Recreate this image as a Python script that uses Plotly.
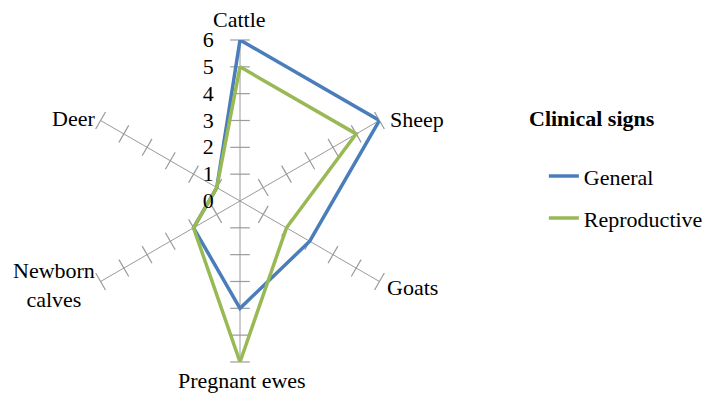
import plotly.graph_objects as go

# Radar chart of clinical signs by host group
categories = ["Cattle", "Sheep", "Goats", "Pregnant ewes", "Newborn calves", "Deer"]
category_labels = ["Cattle", "Sheep", "Goats", "Pregnant ewes", "Newborn<br>calves", "Deer"]
general = [6, 6, 3, 4, 2, 1]
reproductive = [5, 5, 2, 6, 2, 1]
radial_ticks = [0, 1, 2, 3, 4, 5, 6]

BLUE = "#4a7ebb"
GREEN = "#98b954"
GRID = "#9a9a9a"
FONT = "Liberation Serif, Times New Roman, Times, serif"
FS = 22

# Where each spoke's name sits in the paper (x, y, xanchor)
label_place = {
    "Cattle": (0.338, 0.950, "center"),
    "Sheep": (0.5465, 0.697, "left"),
    "Goats": (0.5423, 0.275, "left"),
    "Pregnant ewes": (0.3408, 0.038, "center"),
    "Newborn calves": (0.0761, 0.280, "center"),
    "Deer": (0.1366, 0.6995, "right"),
}

fig = go.Figure()

# Short tick marks across every spoke at each integer value
spoke_angles = [i * 360 / len(categories) for i in range(len(categories))]
tick_r, tick_t, tick_a = [], [], []
for cat, ang in zip(categories, spoke_angles):
    for v in radial_ticks[1:]:
        tick_r.append(v)
        tick_t.append(cat)
        tick_a.append(ang)
fig.add_trace(go.Scatterpolar(
    r=tick_r, theta=tick_t, mode="markers",
    marker=dict(symbol="line-ew", size=14, angle=tick_a,
                line=dict(color=GRID, width=1.2)),
    showlegend=False, hoverinfo="skip",
))

def closed(vals):
    return vals + vals[:1]

fig.add_trace(go.Scatterpolar(
    r=closed(general), theta=closed(categories), mode="lines",
    name="General", line=dict(color=BLUE, width=3.5), legend="legend",
))
fig.add_trace(go.Scatterpolar(
    r=closed(reproductive), theta=closed(categories), mode="lines",
    name="Reproductive", line=dict(color=GREEN, width=3.5), legend="legend2",
))

annotations = [dict(
    text="<b>Clinical signs</b>", x=0.742, y=0.702,
    xref="paper", yref="paper", xanchor="left", yanchor="middle",
    showarrow=False, font=dict(family=FONT, size=FS),
)]
for cat, lab in zip(categories, category_labels):
    x, y, xa = label_place[cat]
    annotations.append(dict(
        text=lab, x=x, y=y, xref="paper", yref="paper",
        xanchor=xa, yanchor="middle", align="center", showarrow=False,
        font=dict(family=FONT, size=FS),
    ))

fig.update_layout(
    width=710, height=396,
    margin=dict(l=0, r=0, t=0, b=0),
    paper_bgcolor="white",
    font=dict(family=FONT, size=FS, color="black"),
    polar=dict(
        domain=dict(x=[0.1113, 0.5648], y=[0.0859, 0.899]),
        bgcolor="white",
        angularaxis=dict(
            direction="clockwise", rotation=90,
            showline=False, showgrid=True, gridcolor=GRID, gridwidth=1.2,
            ticks="", showticklabels=False,
        ),
        radialaxis=dict(
            range=[0, 6], angle=90, tickvals=radial_ticks,
            showline=False, showgrid=False,
            ticks="outside", ticklen=18, tickcolor="rgba(0,0,0,0)",
            side="counterclockwise", tickangle=90,
            tickfont=dict(family=FONT, size=FS),
        ),
    ),
    legend=dict(x=0.766, y=0.555, xanchor="left", yanchor="middle",
                font=dict(family=FONT, size=FS), bgcolor="rgba(0,0,0,0)"),
    legend2=dict(x=0.766, y=0.449, xanchor="left", yanchor="middle",
                 font=dict(family=FONT, size=FS), bgcolor="rgba(0,0,0,0)"),
    annotations=annotations,
)

fig.write_html("out.html")
